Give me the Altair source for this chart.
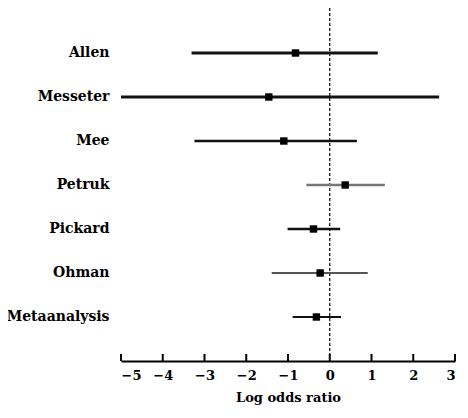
import altair as alt
import pandas as pd

studies = ["Allen", "Messeter", "Mee", "Petruk", "Pickard", "Ohman", "Metaanalysis"]
estimate = [-0.82, -1.46, -1.10, 0.37, -0.39, -0.23, -0.32]
lower = [-3.31, -5.0, -3.24, -0.56, -1.01, -1.39, -0.89]
upper = [1.15, 2.62, 0.65, 1.32, 0.25, 0.91, 0.27]
x_ticks = [-5, -4, -3, -2, -1, 0, 1, 2, 3]

# styles (kept apart from data)
line_widths = [3, 2, 3, 3, 3, 1.3, 3]
line_colors = ["#111111", "#111111", "#111111", "#777777", "#111111", "#555555", "#111111"]

df = pd.DataFrame({"study": studies, "est": estimate, "lo": lower, "hi": upper})
ticks_df = pd.DataFrame({"t": x_ticks})
zero_df = pd.DataFrame({"z": [0]})

FONT = "DejaVu Serif"
H = 352
W = 334

xscale = alt.Scale(domain=[-5, 3], nice=False, zero=False)
yscale = alt.Scale(domain=studies, paddingOuter=0.5, paddingInner=0)

xaxis = alt.Axis(values=x_ticks, title="Log odds ratio", tickSize=0, grid=False,
                 domainColor="black", domainWidth=2, labelFont=FONT, labelFontSize=13,
                 labelFontWeight="bold", labelColor="black", labelPadding=8,
                 titleFont=FONT, titleFontSize=13, titleFontWeight="bold",
                 titleColor="black", titlePadding=9, format="d")

yaxis = alt.Axis(title=None, domain=False, ticks=False, grid=False, labelFont=FONT,
                 labelFontSize=14, labelFontWeight="bold", labelColor="black",
                 labelPadding=12)

zero_line = alt.Chart(zero_df).mark_rule(color="black", strokeWidth=1.2, strokeDash=[3, 2]).encode(
    x=alt.X("z:Q", scale=xscale, axis=xaxis),
    y=alt.value(-1),
    y2=alt.value(H - 4),
)

ci = alt.Chart(df).mark_rule().encode(
    x=alt.X("lo:Q", scale=xscale, axis=xaxis),
    x2="hi:Q",
    y=alt.Y("study:N", scale=yscale, axis=yaxis, sort=studies),
    strokeWidth=alt.StrokeWidth("study:N", scale=alt.Scale(domain=studies, range=line_widths), legend=None),
    color=alt.Color("study:N", scale=alt.Scale(domain=studies, range=line_colors), legend=None),
)

pts = alt.Chart(df).mark_point(shape="square", filled=True, size=55, color="black", opacity=1).encode(
    x=alt.X("est:Q", scale=xscale, axis=xaxis),
    y=alt.Y("study:N", scale=yscale, axis=yaxis, sort=studies),
)

tick_marks = alt.Chart(ticks_df).mark_rule(color="black", strokeWidth=2).encode(
    x=alt.X("t:Q", scale=xscale, axis=xaxis),
    y=alt.value(H - 7),
    y2=alt.value(H),
)

chart = alt.layer(zero_line, ci, pts, tick_marks).properties(
    width=W, height=H,
    autosize=alt.AutoSizeParams(type="none"),
    padding={"left": 113, "top": 1, "right": 5, "bottom": 46},
).configure(background="white").configure_view(stroke=None)

chart.save("out.html", embed_options={"renderer": "svg", "actions": False})
